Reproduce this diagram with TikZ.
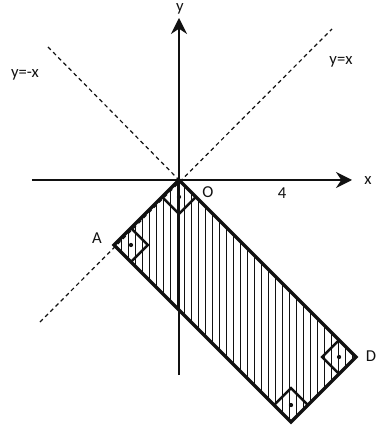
\documentclass[tikz,border=0pt]{standalone}
\usepackage{fontspec}
\setmainfont{Carlito}
\usetikzlibrary{arrows.meta,calc}
\definecolor{Ink}{HTML}{111111}
\begin{document}
\begin{tikzpicture}[x=0.75pt,y=0.75pt, every node/.style={font=\fontsize{12.5}{14}\selectfont,text=Ink}]
\tikzstyle{axis}=[line width=1.2pt,Ink,-{Stealth[length=12pt,width=12pt,inset=4pt]}]
\tikzstyle{guide}=[line width=0.9pt,Ink,dash pattern=on 3pt off 2.5pt]
\tikzstyle{edge}=[line width=2.4pt,Ink,line join=miter]
\tikzstyle{hatch}=[line width=0.6pt,Ink]
\tikzstyle{rightangle}=[line width=1.8pt,Ink]
\useasboundingbox (-179,-247) rectangle (197,180);
% corners of the rectangle
\coordinate (O) at (0,0);
\coordinate (A) at (-65,-65);
\coordinate (D) at (177,-177);
\coordinate (B) at (112,-242);
% axis and guide ends
\coordinate (xl) at (-147,0);
\coordinate (xr) at (173,0);
\coordinate (yb) at (0,-195);
\coordinate (yt) at (0,162);
\coordinate (g1) at (-139,-142);
\coordinate (g2) at (153,151);
\coordinate (g3) at (-131,133);
% hatching
\begin{scope}
\clip (O)--(A)--(B)--(D)--cycle;
\foreach \x in {-65,-58,...,180}
  \draw[hatch] (\x,5) -- (\x,-250);
\end{scope}
\draw[guide] (g1)--(g2);
\draw[guide] (g3)--(O);
\draw[edge] (O)--(A)--(B)--(D)--cycle;
% right angle marks
\foreach \p/\q/\r in {O/A/D, A/O/B, B/A/D, D/O/B}{
  \coordinate (m1) at ($(\p)!18pt!(\q)$);
  \coordinate (m2) at ($(\p)!18pt!(\r)$);
  \draw[rightangle] (m1)--($(m1)+(m2)-(\p)$)--(m2);
  \fill[Ink] ($(\p)!0.5!($(m1)+(m2)-(\p)$)$) circle (1.6pt);
}
\draw[axis] (xl)--(xr);
\draw[axis] (yb)--(yt);
\node (xlab) at (189,-1) {x};
\node (ylab) at (1,171) {y};
\node (lab1) at (162,118) {y=x};
\node (lab2) at (-154,105) {y=-x};
\node (olab) at (29,-12) {O};
\node (four) at (103,-13) {4};
\node (alab) at (-82,-58) {A};
\node (dlab) at (192,-176) {D};
\end{tikzpicture}
\end{document}
